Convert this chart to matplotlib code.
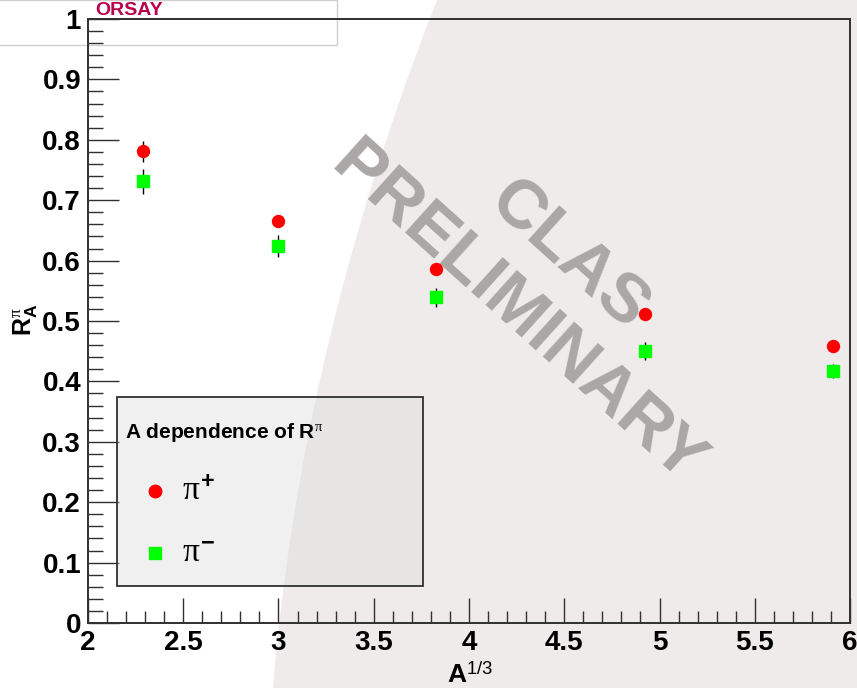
import numpy as np
import matplotlib
matplotlib.use('Agg')
import matplotlib.pyplot as plt
from matplotlib.patches import Polygon, Rectangle
from matplotlib.lines import Line2D
from matplotlib.ticker import AutoMinorLocator, FixedLocator

# ---------------- data ----------------
a13 = [2.289, 3.000, 3.826, 4.924, 5.910]          # A^(1/3): C, Al, Fe, Sn, Pb
r_pip = [0.781, 0.665, 0.586, 0.511, 0.458]        # R_A for pi+
r_pip_err = [0.017, 0.010, 0.008, 0.008, 0.008]
r_pim = [0.731, 0.624, 0.539, 0.450, 0.417]        # R_A for pi-
r_pim_err = [0.020, 0.018, 0.015, 0.015, 0.012]
xtick_vals = [2, 2.5, 3, 3.5, 4, 4.5, 5, 5.5, 6]
xtick_labels = ['2', '2.5', '3', '3.5', '4', '4.5', '5', '5.5', '6']
ytick_vals = [0, 0.1, 0.2, 0.3, 0.4, 0.5, 0.6, 0.7, 0.8, 0.9, 1.0]
ytick_labels = ['0', '0.1', '0.2', '0.3', '0.4', '0.5', '0.6', '0.7', '0.8', '0.9', '1']

plt.rcParams['font.family'] = ['Liberation Sans', 'DejaVu Sans']
plt.rcParams['mathtext.fontset'] = 'custom'
plt.rcParams['mathtext.rm'] = 'Liberation Sans'
plt.rcParams['mathtext.bf'] = 'Liberation Sans:bold'
plt.rcParams['mathtext.it'] = 'Liberation Serif'

W, H = 857, 688
fig = plt.figure(figsize=(W / 100, H / 100), dpi=100)
fig.patch.set_facecolor('white')

def fx(px):
    return px / W

def fy(py):
    return 1 - py / H

# background shaded region (decoration)
yy = np.linspace(0, H, 60)
xx = 437 - 0.3936 * yy + 0.0002256 * yy ** 2
pts = [(fx(x), fy(y)) for x, y in zip(xx, yy)] + [(1.0, 0.0), (1.0, 1.0)]
fig.add_artist(Polygon(pts, closed=True, transform=fig.transFigure,
                       facecolor='#f0ebeb', edgecolor='none', zorder=0))

# logo box
fig.add_artist(Rectangle((fx(-2), fy(45)), fx(339), 45 / H, transform=fig.transFigure,
                         facecolor='white', edgecolor='#cfcfcf', lw=1, zorder=1))
fig.text(fx(95), fy(15), 'ORSAY', color='#b8004c', fontsize=14, fontweight='bold',
         va='baseline', ha='left', zorder=2)

# axes
ax = fig.add_axes([fx(88), fy(623), (850 - 88) / W, (623 - 19) / H])
ax.set_facecolor('none')
ax.set_zorder(3)
ax.set_xlim(2, 6)
ax.set_ylim(0, 1)

for s in ax.spines.values():
    s.set_linewidth(1.4)
    s.set_color('#303030')

ax.xaxis.set_major_locator(FixedLocator(xtick_vals))
ax.set_xticklabels(xtick_labels)
ax.yaxis.set_major_locator(FixedLocator(ytick_vals))
ax.set_yticklabels(ytick_labels)
ax.xaxis.set_minor_locator(AutoMinorLocator(5))
ax.yaxis.set_minor_locator(AutoMinorLocator(5))
ax.tick_params(axis='x', which='major', direction='in', length=18, width=1, color='#303030',
               top=False, pad=5, labelsize=20)
ax.tick_params(axis='x', which='minor', direction='in', length=9, width=1, color='#303030', top=False)
ax.tick_params(axis='y', which='major', direction='in', length=22, width=1, color='#303030',
               right=False, pad=5, labelsize=20)
ax.tick_params(axis='y', which='minor', direction='in', length=11, width=1, color='#303030', right=False)
for lab in ax.get_xticklabels() + ax.get_yticklabels():
    lab.set_fontweight('bold')

# watermark
fig.text(fx(517), fy(314), 'PRELIMINARY', rotation=-42, rotation_mode='anchor',
         ha='center', va='center', fontsize=50, fontweight='bold', color='#aba7a7', zorder=2)
fig.text(fx(568), fy(256), 'CLAS', rotation=-42, rotation_mode='anchor',
         ha='center', va='center', fontsize=50, fontweight='bold', color='#aba7a7', zorder=2)

# data
ax.vlines(a13, np.array(r_pip) - np.array(r_pip_err), np.array(r_pip) + np.array(r_pip_err),
          color='black', lw=1, zorder=4)
ax.vlines(a13, np.array(r_pim) - np.array(r_pim_err), np.array(r_pim) + np.array(r_pim_err),
          color='black', lw=1, zorder=4)
ax.plot(a13, r_pip, 'o', color='#ff0000', mec='#ff0000', ms=8.6, zorder=5, clip_on=False)
ax.plot(a13, r_pim, 's', color='#00ff00', mec='#00ff00', ms=8.4, zorder=5, clip_on=False)

# axis titles
fig.text(fx(447), fy(683), r'$\mathbf{A}^{\mathrm{1/3}}$', fontsize=19, ha='left', va='baseline')
fig.text(fx(26), fy(320), r'$\mathbf{R}^{\pi}_{\mathbf{A}}$', fontsize=18, rotation=90,
         ha='center', va='center')

# legend box
fig.add_artist(Rectangle((fx(117), fy(586)), (423 - 117) / W, (586 - 397) / H,
                         transform=fig.transFigure, facecolor=(0.86, 0.86, 0.86, 0.4),
                         edgecolor='#303030', lw=1.3, zorder=6))
fig.text(fx(125), fy(438), r'A dependence of R$^{\pi}$', fontsize=15, fontweight='bold',
         ha='left', va='baseline', zorder=7)
fig.add_artist(Line2D([fx(155)], [fy(491)], marker='o', color='#ff0000', mec='#ff0000',
                      ms=9, ls='none', transform=fig.transFigure, zorder=7))
fig.add_artist(Line2D([fx(155)], [fy(553)], marker='s', color='#00ff00', mec='#00ff00',
                      ms=9, ls='none', transform=fig.transFigure, zorder=7))
fig.text(fx(182), fy(491), r'$\pi^{\mathbf{+}}$', fontsize=24, ha='left', va='center', zorder=7)
fig.text(fx(182), fy(553), r'$\pi^{\mathbf{-}}$', fontsize=24, ha='left', va='center', zorder=7)

fig.savefig('out.png', dpi=100)
